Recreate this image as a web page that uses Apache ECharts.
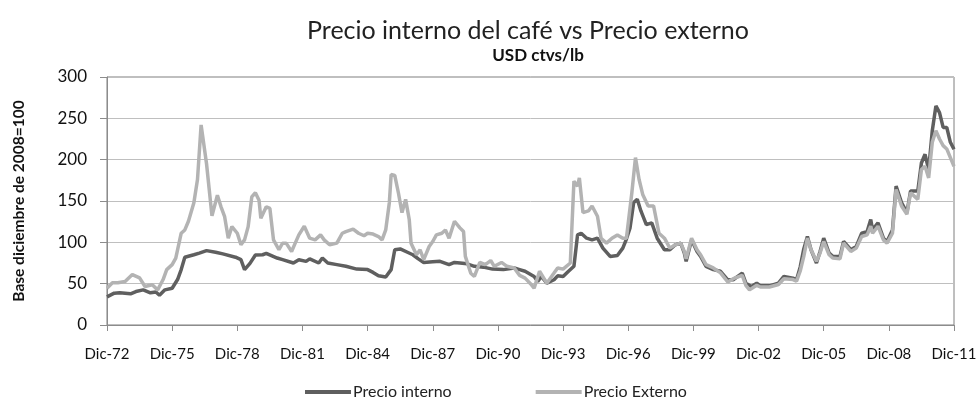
<!DOCTYPE html>
<html>
<head>
<meta charset="utf-8">
<script src="https://cdn.jsdelivr.net/npm/echarts@6/dist/echarts.min.js"></script>
<style>
html,body{margin:0;padding:0;background:#fff;}
#chart{width:980px;height:403px;}
</style>
</head>
<body>
<div id="chart"></div>
<script>
// Meses transcurridos desde diciembre de 1972 (0 = Dic-72, 468 = Dic-11)
const mesesInterno = [0,4,7,13,16,20,24,27,29,32,36,39,41,43,48,51,55,60,64,71,74,76,79,82,86,88,94,97,103,106,110,112,117,119,122,127,132,138,144,147,150,154,157,159,162,166,169,172,175,180,184,189,192,195,199,203,208,213,219,225,228,231,236,238,240,243,247,249,252,255,258,260,262,265,268,271,274,278,282,285,287,289,291,293,295,298,301,304,308,311,314,317,319,320,323,326,328,331,335,339,340,343,346,351,353,356,359,361,366,371,374,379,381,383,385,387,389,392,394,396,399,401,405,407,411,414,417,420,422,423,426,429,431,434,436,439,442,444,448,450,452,454,456,458,460,462,464,466,468];
const interno = [34,38.5,39,37.7,40.5,42.5,39,40,36,42.5,44.5,55,67,82,85,87,90,88,86,82,79,67,74.5,84.6,85,86.6,81,79,75,79,77,80,75,81,75,73,71,67.6,67,63.6,59.5,58,67,91,92,88,85,80,75.7,76.5,77,73,75.7,75,74,71,70,67.6,67,69,67,65,58.7,52.6,58.7,50.6,54.7,59.5,58.7,65,71,109,111,105,103,105,93,83,84,93,104,117.5,148,152,138,121.5,123.5,105,91,91,97,99,87,77,103,89,83,71,67,65,67,54.7,54.7,62.8,50.6,46.6,50.6,47.4,47.4,50.6,58.7,56.7,54.7,70,92,107,91,75,89,105,87,83,83,101,91,95,111,113,127.6,115,123.5,105,101,115,168,148,136,162,162,196,206.5,188,235,265,257,239,239,221,212.6];

const mesesExterno = [0,3,6,10,14,18,21,25,28,31,33,36,38,41,43,45,48,50,52,55,58,61,63,65,67,69,72,74,76,78,80,82,84,85,88,90,92,95,97,99,102,104,106,109,112,115,118,120,123,127,130,132,136,139,142,144,147,150,152,154,156,157,159,161,163,165,167,168,171,173,175,178,180,182,185,187,189,192,195,197,198,201,203,206,209,212,214,218,221,225,228,231,234,236,239,243,247,249,252,256,258,260,261,263,266,268,271,273,276,279,282,285,287,290,292,294,296,299,302,305,308,311,314,317,319,320,323,326,328,331,335,339,340,343,346,351,353,355,359,361,366,371,374,379,381,383,385,387,389,392,394,396,399,401,405,407,411,414,417,420,422,423,426,429,431,434,436,439,442,444,448,450,452,454,456,458,460,462,464,466,468];
const externo = [44.5,51,51,52.6,61,57,46.6,48.6,42.5,55,67,73,81,111,115,125.5,148,176,242,195,132,157,143,131,105,119,111,97,103,119,155,160,151,129,143,141,103,91,99,99,89,99,109,119.5,105,103,109,103,97,99,111,113,116,111,108,111,110,107,103,115,148,182,181,160,136,152,127.6,99,85,91,79,95,101,109,111,115,105,125.5,117.5,113,83,62.6,58.7,75.7,73,78,71,75.7,71,69,60,56.7,50,44.5,65,50.6,62.8,69,67.6,75,174,168,178,136,138,144,131.6,105,99,105,109,105,105,160,202.5,176,158,144,144,111,105,93,97,99,89,80,105,91,85,73,69,63,65,52,56,60,48,42.5,48,46,46,49,56,55,53,65,83,105,91,77,87,101,85,81,80,99,89,93,107,109,119.5,111,119.5,103,99,111,164,144,134,160,152,188,192,178,221,235,225,217,213,202.5,192];

const xTicks = ['Dic-72','Dic-75','Dic-78','Dic-81','Dic-84','Dic-87','Dic-90','Dic-93','Dic-96','Dic-99','Dic-02','Dic-05','Dic-08','Dic-11'];

const titulo = 'Precio interno del café vs Precio externo';
const subtitulo = 'USD ctvs/lb';
const nombreEjeY = 'Base diciembre de 2008=100';
const nombres = ['Precio interno', 'Precio Externo'];

const FONT = 'Lato, "Open Sans", sans-serif';
const chart = echarts.init(document.getElementById('chart'), null, {renderer: 'canvas'});
chart.setOption({
  animation: false,
  backgroundColor: '#ffffff',
  title: [
    {text: titulo, left: 523, top: 13, textAlign: 'center',
     textStyle: {fontFamily: FONT, fontSize: 25, fontWeight: 'normal', color: '#222'}},
    {text: subtitulo, left: 533, top: 42, textAlign: 'center',
     textStyle: {fontFamily: FONT, fontSize: 17, fontWeight: 'bold', color: '#111'}}
  ],
  legend: {
    left: 300, top: 379, itemGap: 84, itemWidth: 46, itemHeight: 4, icon: 'rect',
    textStyle: {fontFamily: FONT, fontSize: 16, color: '#222', padding: [0,0,0,-3]},
    data: nombres
  },
  grid: {left: 107, right: 26, top: 77, bottom: 78, show: true, borderColor: '#7f7f7f', borderWidth: 1, containLabel: false},
  xAxis: {
    type: 'value', min: 0, max: 468, interval: 36,
    axisLine: {show: true, lineStyle: {color: '#8c8c8c'}},
    axisTick: {show: true, length: 6, lineStyle: {color: '#8c8c8c'}},
    axisLabel: {margin: 22, fontFamily: FONT, fontSize: 15, color: '#111',
      formatter: v => xTicks[Math.round(v / 36)] || ''},
    splitLine: {show: false}
  },
  yAxis: {
    type: 'value', min: 0, max: 300, interval: 50,
    name: nombreEjeY, nameLocation: 'middle', nameGap: 80, nameRotate: 90,
    nameTextStyle: {fontFamily: FONT, fontSize: 15.5, fontWeight: 'bold', color: '#111'},
    axisLine: {show: true, lineStyle: {color: '#8c8c8c'}},
    axisTick: {show: true, length: 7, lineStyle: {color: '#8c8c8c'}},
    axisLabel: {margin: 20, fontFamily: FONT, fontSize: 17, color: '#111'},
    splitLine: {show: true, lineStyle: {color: '#bfbfbf', width: 1}}
  },
  series: [
    {name: nombres[0], type: 'line', showSymbol: false, symbol: 'none',
     color: '#5f5f5f', lineStyle: {width: 3.5, color: '#5f5f5f'},
     data: mesesInterno.map((m, i) => [m, interno[i]])},
    {name: nombres[1], type: 'line', showSymbol: false, symbol: 'none',
     color: '#b3b3b3', lineStyle: {width: 3.5, color: '#b3b3b3'},
     data: mesesExterno.map((m, i) => [m, externo[i]])}
  ]
});
</script>
</body>
</html>
